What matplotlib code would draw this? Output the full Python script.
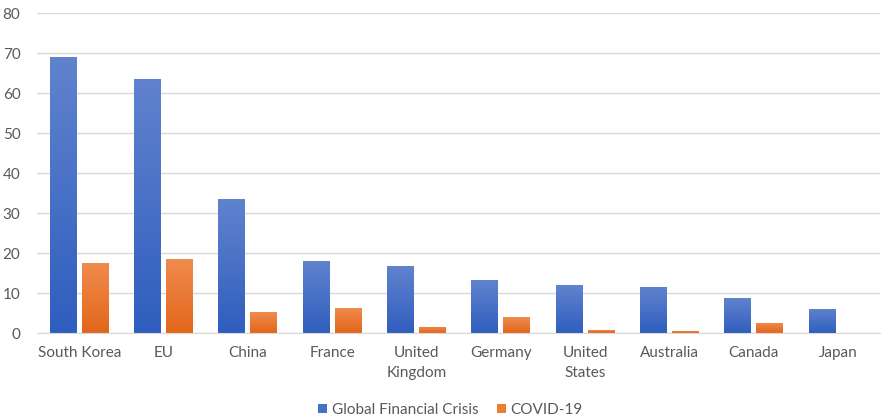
import numpy as np
import matplotlib.pyplot as plt
from matplotlib.colors import LinearSegmentedColormap
from matplotlib.patches import Patch

countries = ["South Korea", "EU", "China", "France", "United\nKingdom",
             "Germany", "United\nStates", "Australia", "Canada", "Japan"]
gfc = [69.0, 63.5, 33.5, 18.0, 16.7, 13.2, 11.9, 11.5, 8.7, 6.0]
covid = [17.5, 18.5, 5.2, 6.3, 1.5, 3.9, 0.8, 0.5, 2.6, 0.0]

plt.rcParams['font.family'] = ['Lato', 'DejaVu Sans']

blue_grad = LinearSegmentedColormap.from_list("b", ["#2F5EBE", "#6183CE"])
orange_grad = LinearSegmentedColormap.from_list("o", ["#E2661A", "#F08C4F"])

fig = plt.figure(figsize=(8.83, 4.2), dpi=100)
ax = fig.add_axes([0.042, 0.207, 0.955, 0.762])

x = np.arange(len(countries))
w = 0.32
off = 0.19
b1 = ax.bar(x - off, gfc, w, facecolor="none", linewidth=0, zorder=3)
b2 = ax.bar(x + off, covid, w, facecolor="none", linewidth=0, zorder=3)

# vertical gradient fill, clipped to each bar
grad = np.linspace(0, 1, 256).reshape(-1, 1)
for bars, cmap in ((b1, blue_grad), (b2, orange_grad)):
    for r in bars:
        h = r.get_height()
        if h <= 0:
            continue
        x0 = r.get_x()
        im = ax.imshow(grad, cmap=cmap, origin="lower", aspect="auto",
                       extent=(x0, x0 + r.get_width(), 0, h), zorder=2,
                       interpolation="bilinear")
        im.set_clip_path(r)

ax.set_xlim(-0.5, len(countries) - 0.5)
ax.set_ylim(0, 80)
ax.set_yticks(range(0, 81, 10))
ax.set_xticks(x)
ax.set_xticklabels(countries, linespacing=1.6)
ax.grid(axis="y", color="#D9D9D9", linewidth=1, zorder=0)
ax.set_axisbelow(True)
for s in ("top", "right", "left"):
    ax.spines[s].set_visible(False)
ax.spines["bottom"].set_color("#D9D9D9")
ax.tick_params(axis="both", length=0, labelsize=11, colors="#595959")
ax.tick_params(axis="x", pad=9)
ax.tick_params(axis="y", pad=12)

handles = [Patch(facecolor="#4472C4"), Patch(facecolor="#ED7D31")]
fig.legend(handles, ["Global Financial Crisis", "COVID-19"], loc="lower center",
           bbox_to_anchor=(0.51, -0.025), ncol=2, frameon=False, fontsize=11,
           labelcolor="#595959", handlelength=0.6, handleheight=0.6,
           handletextpad=0.3, columnspacing=1.2)

fig.savefig("out.png", dpi=100)
